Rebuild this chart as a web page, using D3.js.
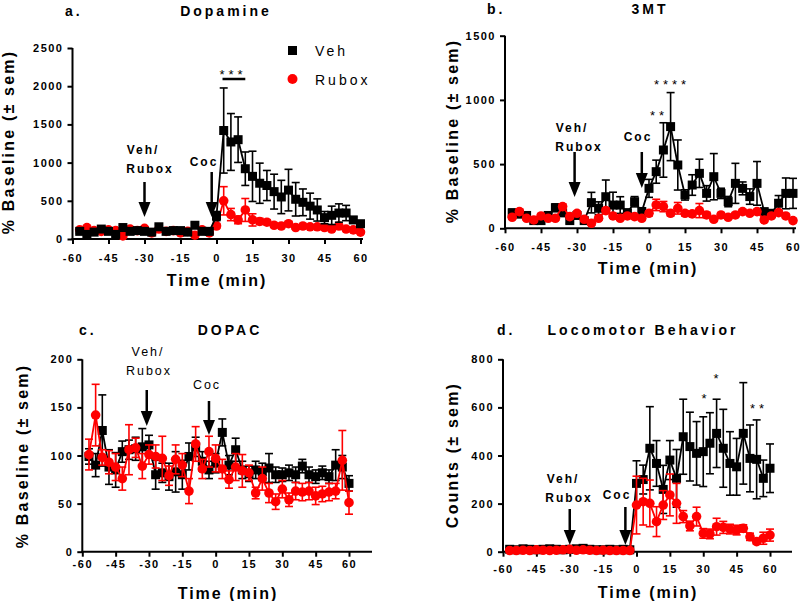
<!DOCTYPE html>
<html><head><meta charset="utf-8">
<script src="https://cdn.jsdelivr.net/npm/d3@7"></script>
<style>body{margin:0;background:#fff}svg{display:block}</style>
</head><body>
<svg id="c" width="800" height="601"></svg>
<script>
// ---------- DATA ----------
const times = [-57,-54,-51,-48,-45,-42,-39,-36,-33,-30,-27,-24,-21,-18,-15,-12,-9,-6,-3,
  0,3,6,9,12,15,18,21,24,27,30,33,36,39,42,45,48,51,54,57,60];
const xTicks = [-60,-45,-30,-15,0,15,30,45,60];

// a. Dopamine
const daVeh    = [100,60,90,130,100,60,150,100,110,100,90,160,100,110,110,90,180,100,100,
  300,1420,1270,1300,920,820,730,700,620,550,640,520,480,430,380,280,310,340,340,250,200];
const daVehSem = [25,30,20,25,20,30,25,20,20,25,20,30,20,25,20,20,35,20,25,
  60,557,372,298,219,329,263,197,228,218,272,219,175,170,145,80,120,120,100,40,30];
const daRub    = [120,150,110,100,120,110,40,130,110,140,80,130,100,110,80,100,50,120,80,
  170,500,320,250,380,250,230,220,180,170,200,150,170,160,160,150,130,170,130,120,90];
const daRubSem = [15,15,15,15,15,15,15,15,15,15,15,15,15,15,15,15,15,15,15,
  30,185,80,50,150,80,40,30,25,20,25,20,20,20,20,20,20,20,20,20,20];

// b. 3MT
const tmVeh    = [120,110,100,60,60,100,160,120,60,100,60,200,156,246,181,181,120,207,130,
  311,441,610,792,493,260,337,428,272,402,272,208,350,311,247,350,130,117,195,272,272];
const tmVehSem = [30,20,20,20,20,20,30,20,20,20,20,80,50,130,100,65,30,40,30,
  70,90,212,265,195,40,80,110,60,180,40,40,156,50,60,170,20,20,60,120,117];
const tmRub    = [86,130,78,65,96,78,78,169,91,117,70,39,78,138,96,78,96,91,78,
  117,182,169,117,156,117,112,138,104,70,104,86,104,130,117,130,65,96,122,96,60];
const tmRubSem = [15,20,15,15,15,15,15,20,15,15,15,15,15,20,15,15,15,15,15,
  20,44,40,20,45,20,20,55,20,15,15,15,15,15,15,15,15,15,15,15,15];

// c. DOPAC
const dcVeh    = [99,90,126,88,85,104,106,107,109,111,80,82,78,83,80,99,109,94,85,
  92,124,90,106,85,81,85,83,87,80,80,82,80,89,80,78,82,78,90,88,71];
const dcVehSem = [8,12,37,18,18,11,10,12,19,10,15,10,14,21,15,14,10,10,9,
  10,14,10,12,9,8,9,9,15,8,7,8,8,7,8,7,7,7,16,12,8];
const dcRub    = [101,142,98,93,88,76,106,108,89,101,99,97,79,96,90,63,112,86,104,
  97,86,75,88,84,82,61,76,61,52,65,54,63,62,63,58,60,62,63,95,51];
const dcRubSem = [16,32,8,12,14,12,26,10,13,10,12,23,10,15,12,13,18,10,16,
  14,10,9,14,17,8,6,12,10,8,9,7,9,9,9,9,8,9,8,31,12];

// d. Locomotor Behavior
const lmVeh    = [10,8,12,10,8,10,12,10,8,10,12,14,10,8,8,10,8,10,8,
  284,300,430,367,259,381,305,478,437,409,416,451,492,430,367,353,492,388,384,305,347];
const lmVehSem = [5,5,6,5,5,8,5,5,5,6,5,8,5,5,5,5,5,5,5,
  94,60,173,95,100,81,120,156,143,132,145,127,142,162,132,118,211,139,164,76,101];
const lmRub    = [5,5,6,5,8,6,5,6,8,10,6,8,6,5,6,5,5,5,5,
  194,208,201,125,194,236,201,146,107,146,76,74,104,101,94,90,97,62,42,56,69];
const lmRubSem = [4,4,4,4,4,4,4,4,4,4,4,4,4,4,4,4,4,4,4,
  120,97,97,62,60,87,83,25,20,39,20,20,35,25,20,20,15,15,10,25,25];

const legendLabels = ["Veh","Rubox"];

// ---------- DRAW ----------
const FONT = "'Liberation Sans', Arial, Helvetica, sans-serif";
const svg = d3.select('#c');
const RED = '#ff0000', BLK = '#000000';

function txt(g, s, x, y, o) {
  o = o || {};
  return g.append('text').text(s).attr('x', x).attr('y', y)
    .attr('font-family', FONT).attr('font-size', o.size || 12)
    .attr('font-weight', o.weight || 'bold')
    .attr('letter-spacing', o.ls != null ? o.ls : 2)
    .attr('text-anchor', o.anchor || 'middle')
    .attr('dominant-baseline', 'central')
    .attr('fill', o.fill || '#000');
}

function arrow(g, x, y1, y2) {
  g.append('line').attr('x1', x).attr('x2', x).attr('y1', y1).attr('y2', y2 - 10)
    .attr('stroke', '#000').attr('stroke-width', 2.5);
  g.append('path').attr('d', `M${x-6},${y2-15} L${x+6},${y2-15} L${x},${y2} Z`).attr('fill', '#000');
}

function drawSeries(g, x, y, vals, sems, color, shape) {
  const data = times.map((t, i) => ({t, v: vals[i], s: sems[i]}));
  const eg = g.append('g').attr('stroke', color).attr('stroke-width', 1.6);
  data.forEach(d => {
    const yt = y(d.v + d.s), yb = y(Math.max(0, d.v - d.s)), xx = x(d.t);
    eg.append('line').attr('x1', xx).attr('x2', xx).attr('y1', yt).attr('y2', yb);
    eg.append('line').attr('x1', xx - 4).attr('x2', xx + 4).attr('y1', yt).attr('y2', yt);
    eg.append('line').attr('x1', xx - 4).attr('x2', xx + 4).attr('y1', yb).attr('y2', yb);
  });
  g.append('path').datum(data)
    .attr('d', d3.line().x(d => x(d.t)).y(d => y(d.v)))
    .attr('fill', 'none').attr('stroke', color).attr('stroke-width', 1.8);
  const mg = g.append('g').attr('fill', color);
  if (shape === 'square') {
    mg.selectAll('rect').data(data).join('rect')
      .attr('x', d => x(d.t) - 4.5).attr('y', d => y(d.v) - 4.5)
      .attr('width', 9).attr('height', 9);
  } else {
    mg.selectAll('circle').data(data).join('circle')
      .attr('cx', d => x(d.t)).attr('cy', d => y(d.v)).attr('r', 4.8);
  }
}

function panel(p) {
  const g = svg.append('g');
  const x = d3.scaleLinear().domain([-60, 60]).range([p.xl, p.xr]);
  const y = d3.scaleLinear().domain([0, p.ymax]).range([p.yb, p.yt]);

  // x axis
  const gx = g.append('g').attr('transform', `translate(0,${p.yb})`)
    .call(d3.axisBottom(x).tickValues(xTicks).tickSize(5).tickPadding(p.xpad).tickFormat(d => d));
  gx.select('.domain').remove();
  gx.selectAll('.tick line').attr('stroke-width', 2);
  gx.selectAll('text').attr('font-family', FONT).attr('font-size', 11).attr('font-weight', 'bold')
    .attr('letter-spacing', 1.5).attr('fill', '#000');
  g.append('line').attr('x1', p.xl - 1).attr('x2', p.xend).attr('y1', p.yb).attr('y2', p.yb)
    .attr('stroke', '#000').attr('stroke-width', 2);

  // y axis
  const gy = g.append('g').attr('transform', `translate(${p.xl},0)`)
    .call(d3.axisLeft(y).tickValues(p.yticks).tickSize(5).tickPadding(4).tickFormat(d => d));
  gy.select('.domain').remove();
  gy.selectAll('.tick line').attr('stroke-width', 2);
  gy.selectAll('text').attr('font-family', FONT).attr('font-size', 11).attr('font-weight', 'bold')
    .attr('letter-spacing', 1.5).attr('fill', '#000');
  g.append('line').attr('x1', p.xl).attr('x2', p.xl).attr('y1', p.yb + 1).attr('y2', p.yt)
    .attr('stroke', '#000').attr('stroke-width', 2);

  // series
  p.series.forEach(s => drawSeries(g, x, y, s.vals, s.sems, s.color, s.shape));

  // titles
  txt(g, p.letter, p.letterX, p.titleY, {size: 14, ls: 3, anchor: 'start'});
  txt(g, p.title, p.titleX, p.titleY, {size: 14, ls: 3});
  txt(g, 'Time (min)', p.xTitleX, p.xTitleY, {size: 16, ls: 2});
  txt(g, p.yTitle, 0, 0, {size: 16, ls: 2.2})
    .attr('transform', `translate(${p.yTitleX},${p.yTitleY}) rotate(-90)`);

  // annotations
  const aw = p.annWeight || 'bold';
  const asz = p.annSize || 12;
  txt(g, 'Veh/', p.vehTx, p.vehTy, {size: asz, weight: aw, ls: 2});
  txt(g, 'Rubox', p.vehTx + p.rubDx, p.vehTy + 19, {size: asz, weight: aw, ls: 2});
  arrow(g, x(p.vehT), p.vehA1, p.vehA2);
  txt(g, 'Coc', p.cocTx, p.cocTy, {size: asz, weight: aw, ls: 2});
  arrow(g, x(p.cocT), p.cocA1, p.cocA2);
  (p.stars || []).forEach(s => txt(g, s.s, s.x, s.y, {size: 13, ls: 4, weight: 'normal'}));
  return {g, x, y};
}

// a. Dopamine
const A = panel({
  xl: 72.5, xr: 360.5, xend: 363, yb: 239, yt: 48, ymax: 2500, yticks: [0,500,1000,1500,2000,2500], xpad: 10,
  series: [
    {vals: daRub, sems: daRubSem, color: RED, shape: 'circle'},
    {vals: daVeh, sems: daVehSem, color: BLK, shape: 'square'}
  ],
  letter: 'a.', letterX: 65, title: 'Dopamine', titleX: 226, titleY: 11,
  xTitleX: 217, xTitleY: 280, yTitle: '% Baseline (± sem)', yTitleX: 8, yTitleY: 142,
  vehTx: 143, vehTy: 150, rubDx: 7, vehT: -30, vehA1: 182, vehA2: 217,
  cocTx: 204, cocTy: 162, cocT: -2, cocA1: 172, cocA2: 217,
  stars: [{s: '***', x: 233, y: 74}]
});
A.g.append('line').attr('x1', A.x(2.5)).attr('x2', A.x(12)).attr('y1', 79).attr('y2', 79)
  .attr('stroke', '#000').attr('stroke-width', 2.5);
// legend
A.g.append('rect').attr('x', 288).attr('y', 46).attr('width', 9).attr('height', 9).attr('fill', BLK);
txt(A.g, legendLabels[0], 315, 51, {size: 14, weight: 'normal', ls: 3, anchor: 'start'});
A.g.append('circle').attr('cx', 292.5).attr('cy', 79).attr('r', 5).attr('fill', RED);
txt(A.g, legendLabels[1], 315, 80, {size: 14, weight: 'normal', ls: 3, anchor: 'start'});

// b. 3MT
panel({
  xl: 505, xr: 793, xend: 796, yb: 228.3, yt: 35.7, ymax: 1500, yticks: [0,500,1000,1500], xpad: 10,
  series: [
    {vals: tmVeh, sems: tmVehSem, color: BLK, shape: 'square'},
    {vals: tmRub, sems: tmRubSem, color: RED, shape: 'circle'}
  ],
  letter: 'b.', letterX: 487, title: '3MT', titleX: 650, titleY: 9,
  xTitleX: 648, xTitleY: 268, yTitle: '% Baseline (± sem)', yTitleX: 452, yTitleY: 131,
  vehTx: 572, vehTy: 128, rubDx: 7, vehT: -31, vehA1: 152, vehA2: 197,
  cocTx: 638, cocTy: 137, cocT: -3, cocA1: 152, cocA2: 188,
  stars: [{s: '****', x: 672, y: 84}, {s: '**', x: 659, y: 115}]
});

// c. DOPAC
panel({
  xl: 82.3, xr: 349, xend: 372, yb: 551.7, yt: 359.3, ymax: 200, yticks: [0,50,100,150,200], xpad: 4,
  series: [
    {vals: dcVeh, sems: dcVehSem, color: BLK, shape: 'square'},
    {vals: dcRub, sems: dcRubSem, color: RED, shape: 'circle'}
  ],
  letter: 'c.', letterX: 79, title: 'DOPAC', titleX: 230, titleY: 330,
  xTitleX: 228, xTitleY: 593, yTitle: '% Baseline (± sem)', yTitleX: 22, yTitleY: 456,
  vehTx: 148, vehTy: 352, rubDx: 1, vehT: -31, vehA1: 390, vehA2: 426,
  cocTx: 207, cocTy: 385, cocT: -3, cocA1: 401, cocA2: 435,
  annWeight: 'normal', annSize: 12.5
});

// d. Locomotor
panel({
  xl: 503, xr: 770, xend: 792, yb: 551.7, yt: 359.3, ymax: 800, yticks: [0,200,400,600,800], xpad: 9,
  series: [
    {vals: lmVeh, sems: lmVehSem, color: BLK, shape: 'square'},
    {vals: lmRub, sems: lmRubSem, color: RED, shape: 'circle'}
  ],
  letter: 'd.', letterX: 497, title: 'Locomotor Behavior', titleX: 643, titleY: 330,
  xTitleX: 648, xTitleY: 592, yTitle: 'Counts (± sem)', yTitleX: 452, yTitleY: 455,
  vehTx: 563, vehTy: 479, rubDx: 6, vehT: -30, vehA1: 509, vehA2: 545,
  cocTx: 617, cocTy: 495, cocT: -5, cocA1: 507, cocA2: 545,
  stars: [{s: '*', x: 706, y: 398}, {s: '*', x: 718, y: 378}, {s: '**', x: 759, y: 408}]
});
</script>
</body></html>
